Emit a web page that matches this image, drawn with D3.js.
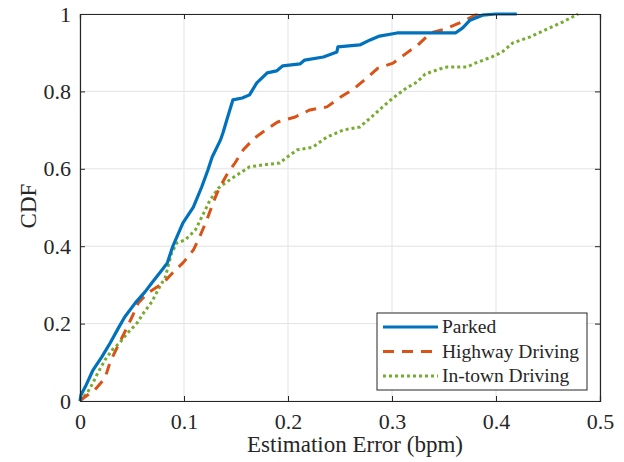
<!DOCTYPE html>
<html>
<head>
<meta charset="utf-8">
<script src="https://cdn.jsdelivr.net/npm/d3@7"></script>
<style>
  body { margin: 0; background: #fff; }
</style>
</head>
<body>
<div id="chart"></div>
<script>
// series (x = error in bpm, y = CDF)
const parkedX = [0, 0.001, 0.005, 0.0125, 0.021, 0.029, 0.037, 0.043, 0.053, 0.0625, 0.069, 0.079, 0.084, 0.089, 0.099, 0.109, 0.117, 0.123, 0.127, 0.135, 0.1375, 0.142, 0.147, 0.156, 0.163, 0.170, 0.180, 0.189, 0.195, 0.2115, 0.216, 0.234, 0.247, 0.248, 0.269, 0.279, 0.288, 0.305, 0.361, 0.368, 0.375, 0.387, 0.40, 0.42];
const parkedY = [0, 0.016, 0.036, 0.080, 0.114, 0.150, 0.189, 0.217, 0.253, 0.282, 0.305, 0.339, 0.357, 0.398, 0.460, 0.501, 0.553, 0.597, 0.630, 0.674, 0.693, 0.734, 0.778, 0.783, 0.791, 0.822, 0.848, 0.853, 0.866, 0.871, 0.881, 0.889, 0.902, 0.915, 0.920, 0.933, 0.943, 0.951, 0.951, 0.964, 0.984, 0.997, 1, 1];

const highwayX = [0, 0.002, 0.014, 0.024, 0.029, 0.036, 0.043, 0.050, 0.056, 0.065, 0.080, 0.089, 0.099, 0.109, 0.115, 0.122, 0.128, 0.133, 0.141, 0.149, 0.157, 0.168, 0.180, 0.190, 0.207, 0.221, 0.2375, 0.251, 0.263, 0.276, 0.2865, 0.301, 0.313, 0.325, 0.337, 0.351, 0.365, 0.380, 0.385];
const highwayY = [0, 0.005, 0.028, 0.059, 0.101, 0.140, 0.178, 0.217, 0.253, 0.279, 0.305, 0.331, 0.357, 0.390, 0.424, 0.468, 0.512, 0.545, 0.584, 0.615, 0.649, 0.680, 0.703, 0.721, 0.734, 0.752, 0.760, 0.786, 0.806, 0.835, 0.860, 0.873, 0.897, 0.920, 0.951, 0.961, 0.977, 0.997, 1];

const intownX = [0, 0.002, 0.007, 0.0125, 0.017, 0.024, 0.031, 0.038, 0.046, 0.055, 0.061, 0.069, 0.075, 0.082, 0.088, 0.093, 0.101, 0.111, 0.117, 0.125, 0.133, 0.142, 0.151, 0.163, 0.176, 0.192, 0.199, 0.209, 0.224, 0.2375, 0.253, 0.269, 0.279, 0.291, 0.301, 0.314, 0.324, 0.332, 0.346, 0.353, 0.372, 0.380, 0.396, 0.406, 0.416, 0.433, 0.449, 0.464, 0.479];
const intownY = [0, 0.008, 0.021, 0.047, 0.072, 0.106, 0.132, 0.150, 0.176, 0.202, 0.227, 0.256, 0.287, 0.320, 0.382, 0.408, 0.416, 0.442, 0.475, 0.519, 0.550, 0.568, 0.584, 0.605, 0.610, 0.615, 0.630, 0.649, 0.656, 0.682, 0.700, 0.708, 0.731, 0.760, 0.783, 0.809, 0.824, 0.845, 0.858, 0.863, 0.863, 0.873, 0.889, 0.902, 0.925, 0.941, 0.961, 0.979, 1];

const seriesNames = ['Parked', 'Highway Driving', 'In-town Driving'];
const xTicks = [0, 0.1, 0.2, 0.3, 0.4, 0.5];
const yTicks = [0, 0.2, 0.4, 0.6, 0.8, 1];

const FONT = "'Liberation Serif', 'Times New Roman', Times, serif";
const width = 624, height = 462;
const margin = {top: 14, right: 24, bottom: 61, left: 80};
const cWidth = width - margin.left - margin.right;
const cHeight = height - margin.top - margin.bottom;

const svg = d3.select('#chart').append('svg')
    .attr('width', width)
    .attr('height', height)
    .style('font-family', FONT);
const g = svg.append('g').attr('transform', `translate(${margin.left},${margin.top})`);

const x = d3.scaleLinear().domain([0, 0.5]).range([0, cWidth]);
const y = d3.scaleLinear().domain([0, 1]).range([cHeight, 0]);

// grid
g.append('g').selectAll('line').data(xTicks).enter().append('line')
    .attr('x1', d => x(d)).attr('x2', d => x(d))
    .attr('y1', 0).attr('y2', cHeight)
    .attr('stroke', '#e3e3e3').attr('stroke-width', 1);
g.append('g').selectAll('line').data(yTicks).enter().append('line')
    .attr('y1', d => y(d)).attr('y2', d => y(d))
    .attr('x1', 0).attr('x2', cWidth)
    .attr('stroke', '#e3e3e3').attr('stroke-width', 1);

// series
const series = [
    {name: seriesNames[0], xs: parkedX, ys: parkedY, color: '#0072BD', dash: null, w: 3.2},
    {name: seriesNames[1], xs: highwayX, ys: highwayY, color: '#D95319', dash: '11,8', w: 3},
    {name: seriesNames[2], xs: intownX, ys: intownY, color: '#77AC30', dash: '3,3', w: 3}
];

const line = d3.line().x(d => x(d[0])).y(d => y(d[1]));

series.slice().reverse().forEach(s => {
    g.append('path')
        .datum(s.xs.map((v, i) => [v, s.ys[i]]))
        .attr('fill', 'none')
        .attr('stroke', s.color)
        .attr('stroke-width', s.w)
        .attr('stroke-dasharray', s.dash)
        .attr('stroke-linejoin', 'round')
        .attr('d', line);
});

// axes (box with inner ticks on all sides)
const tickLen = 5;
const xAxis = g.append('g').attr('transform', `translate(0,${cHeight})`)
    .call(d3.axisBottom(x).tickValues(xTicks).tickSize(-tickLen).tickPadding(12).tickFormat(d3.format('')));
const xAxisTop = g.append('g')
    .call(d3.axisTop(x).tickValues(xTicks).tickSize(-tickLen).tickFormat(''));
const yAxis = g.append('g')
    .call(d3.axisLeft(y).tickValues(yTicks).tickSize(-tickLen).tickPadding(9).tickFormat(d3.format('')));
const yAxisRight = g.append('g').attr('transform', `translate(${cWidth},0)`)
    .call(d3.axisRight(y).tickValues(yTicks).tickSize(-tickLen).tickFormat(''));

[xAxis, xAxisTop, yAxis, yAxisRight].forEach(a => {
    a.attr('font-family', null).attr('font-size', null);
    a.select('.domain').attr('stroke', '#262626').attr('stroke-width', 1.2);
    a.selectAll('.tick line').attr('stroke', '#262626');
    a.selectAll('.tick text')
        .attr('fill', '#262626')
        .style('font-family', FONT)
        .style('font-size', '22px');
});

// axis labels
svg.append('text')
    .attr('x', 355)
    .attr('y', 452)
    .attr('text-anchor', 'middle')
    .style('font-size', '23px')
    .attr('fill', '#262626')
    .text('Estimation Error (bpm)');

svg.append('text')
    .attr('transform', 'translate(36,206) rotate(-90)')
    .attr('text-anchor', 'middle')
    .style('font-size', '23px')
    .attr('fill', '#262626')
    .text('CDF');

// legend
const legend = svg.append('g').attr('transform', 'translate(377,313)');
legend.append('rect')
    .attr('width', 210).attr('height', 77)
    .attr('fill', '#fff')
    .attr('stroke', '#262626').attr('stroke-width', 1);

const items = legend.selectAll('.legend').data(series).enter().append('g')
    .attr('class', 'legend')
    .attr('transform', (d, i) => `translate(0,${14 + i * 24.5})`);

items.append('line')
    .attr('x1', 6).attr('x2', 61)
    .attr('stroke', d => d.color)
    .attr('stroke-width', d => d.w)
    .attr('stroke-dasharray', d => d.dash);

items.append('text')
    .attr('x', 65)
    .attr('dy', '0.33em')
    .style('font-size', '19.5px')
    .attr('fill', '#262626')
    .text(d => d.name);
</script>
</body>
</html>
